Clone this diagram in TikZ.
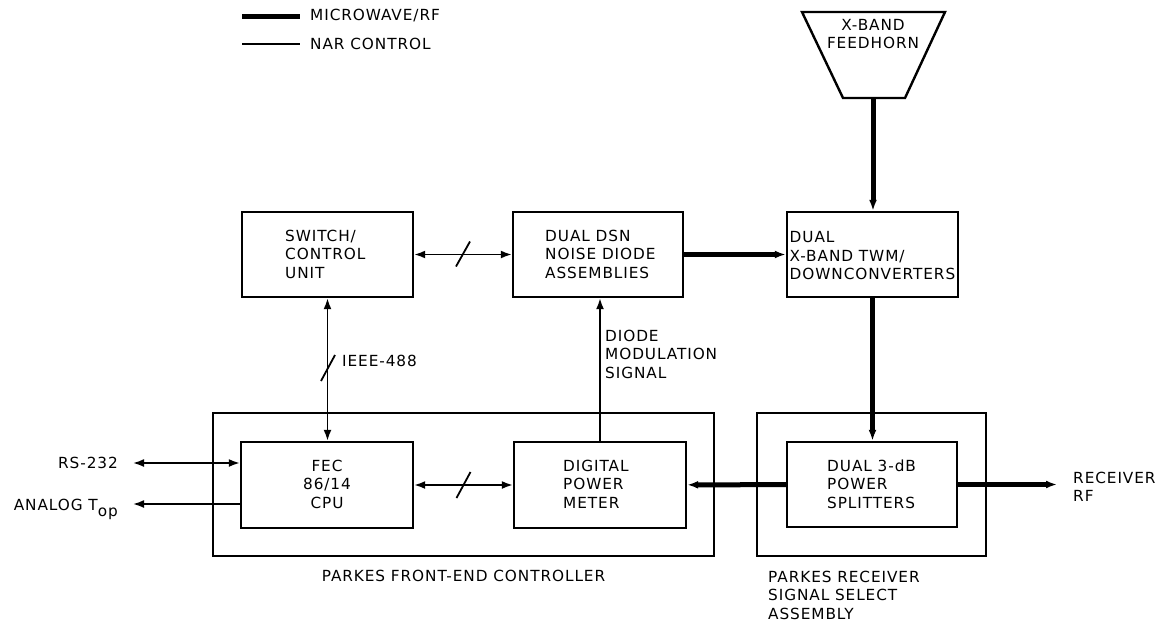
\documentclass[tikz,border=0pt]{standalone}
\usepackage{fontspec}
\setmainfont{DejaVu Sans}[LetterSpace=6]
\usetikzlibrary{arrows.meta,calc}
\begin{document}
\begin{tikzpicture}[x=1pt,y=-1pt,
  box/.style={draw, line width=2.4pt, inner sep=0pt},
  txt/.style={font=\fontsize{15.3}{18.5}\selectfont, inner sep=0pt, align=left},
  rf/.style={line width=5pt},
  ctl/.style={line width=1.8pt},
  >={Latex[length=11pt,width=8pt]}]
\useasboundingbox (0,0) rectangle (1164,624);
% legend
\coordinate (l1a) at (242,16); \coordinate (l1b) at (300,16);
\coordinate (l2a) at (242,44); \coordinate (l2b) at (300,44);
\draw[rf] (l1a) -- (l1b);
\draw[line width=1.3pt] (l2a) -- (l2b);
\node[txt, anchor=west] (lg1) at (310,16) {MICROWAVE/RF};
\node[txt, anchor=west] (lg2) at (310,44) {NAR CONTROL};
% feedhorn
\draw[line width=2.4pt] (802,12) -- (945,12) -- (905,98) -- (843,98) -- cycle;
\coordinate (horn) at (873,98);
\node[txt, align=center] (horntxt) at (873,34) {X-BAND\\FEEDHORN};
% boxes
\node[box, minimum width=171pt, minimum height=85pt] (sw) at (327.5,254.5) {};
\node[box, minimum width=170pt, minimum height=85pt] (dsn) at (598,254.5) {};
\node[box, minimum width=171pt, minimum height=85pt] (xb) at (872.5,254.5) {};
\node[box, minimum width=501pt, minimum height=143pt] (fe) at (463.5,484.5) {};
\node[box, minimum width=229pt, minimum height=143pt] (rx) at (871.5,484.5) {};
\node[box, minimum width=172pt, minimum height=86pt] (fec) at (327,485) {};
\node[box, minimum width=172pt, minimum height=86pt] (pm) at (600,485) {};
\node[box, minimum width=170pt, minimum height=85pt] (sp) at (872,484.5) {};
% box texts
\node[txt, anchor=west] (swt) at (285,254) {SWITCH/\\CONTROL\\UNIT};
\node[txt, anchor=west] (dsnt) at (545,254) {DUAL DSN\\NOISE DIODE\\ASSEMBLIES};
\node[txt, anchor=west] (xbt) at (789.5,256) {DUAL\\X-BAND TWM/\\DOWNCONVERTERS};
\node[txt, align=center] (fect) at (327,484) {FEC\\86/14\\CPU};
\node[txt, anchor=west] (pmt) at (563,484) {DIGITAL\\POWER\\METER};
\node[txt, anchor=west] (spt) at (827,484) {DUAL 3-dB\\POWER\\SPLITTERS};
% connectors
\draw[ctl,<->] (sw) -- (dsn);
\coordinate (s1) at ($(sw.east)!0.5!(dsn.west)$);
\draw[ctl] ($(s1)+(-7,12)$) -- ($(s1)+(7,-13)$);
\draw[rf,->] (dsn) -- (xb);
\draw[rf,->] (horn) -- (horn |- xb.north);
\draw[rf,->] (xb.south) -- (xb.south |- sp.north);
\draw[ctl,<->] (sw.south) -- (sw.south |- fec.north);
\coordinate (s2) at (328,368);
\draw[ctl] ($(s2)+(-7,13)$) -- ($(s2)+(7,-13)$);
\node[txt, anchor=west] (ieee) at (342,361) {IEEE-488};
\draw[ctl,->] (pm.north) -- (pm.north |- dsn.south);
\node[txt, anchor=west] (diode) at (605,354) {DIODE\\MODULATION\\SIGNAL};
\draw[ctl,<->] (fec) -- (pm);
\coordinate (s3) at ($(fec.east)!0.5!(pm.west)$);
\draw[ctl] ($(s3)+(-7,13)$) -- ($(s3)+(7,-13)$);
\draw[rf,->] (sp) -- (pm);
\coordinate (rfend) at (1057,484.5);
\draw[rf,->] (sp) -- (rfend);
\node[txt, anchor=west] (rft) at (1073,487) {RECEIVER\\RF};
\coordinate (rsend) at (133,463);
\draw[ctl,<->] (rsend) -- (fec.west |- rsend);
\node[txt, anchor=east] (rst) at (118,463) {RS-232};
\coordinate (aend) at (133,504);
\draw[ctl,->] (fec.west |- aend) -- (aend);
\node[txt, anchor=base east] (at) at (118,510) {ANALOG T\raisebox{-6pt}{op}};
% group labels
\node[txt, align=center] (fel) at (463.5,576) {PARKES FRONT-END CONTROLLER};
\node[txt, anchor=west] (rxl) at (768,595) {PARKES RECEIVER\\SIGNAL SELECT\\ASSEMBLY};
\end{tikzpicture}
\end{document}
